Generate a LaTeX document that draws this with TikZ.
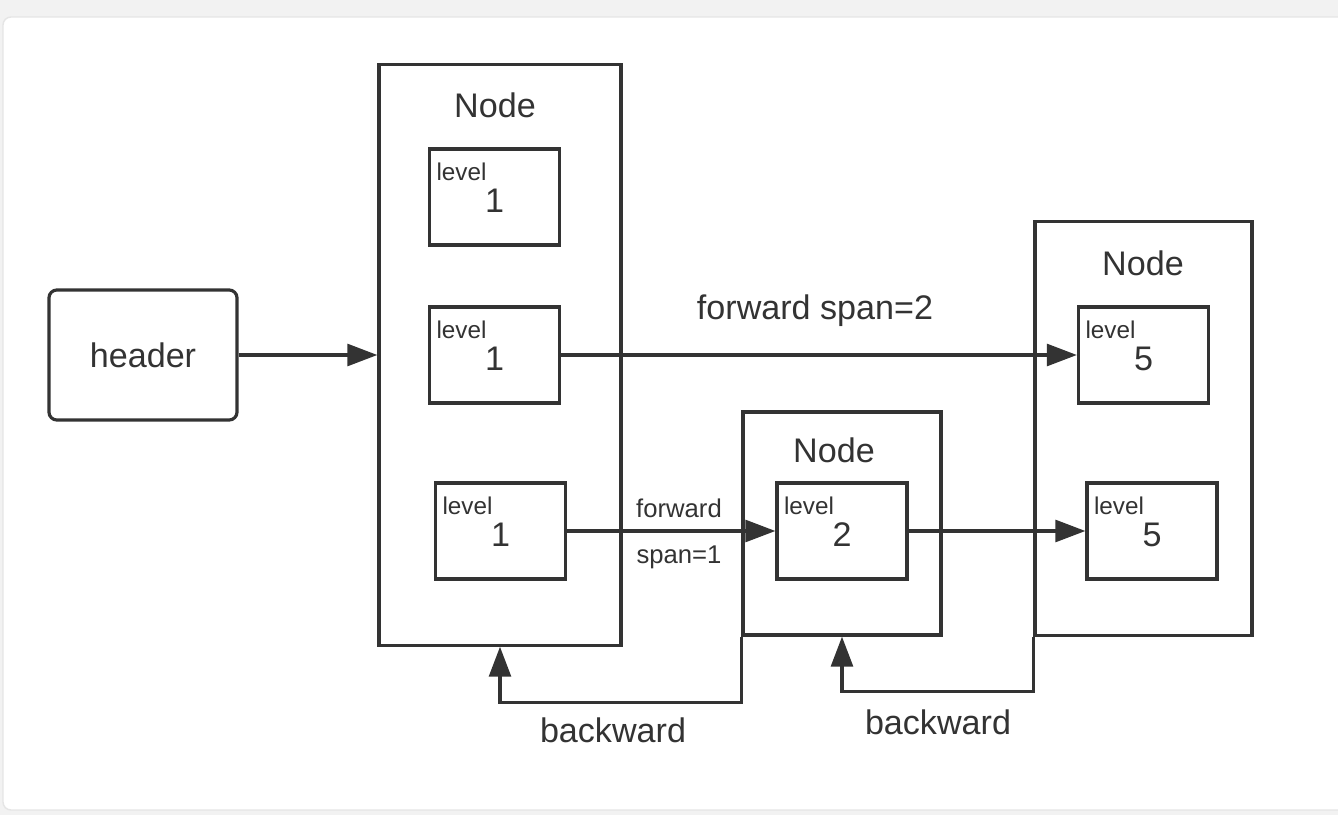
\documentclass[tikz,border=0pt]{standalone}
\usepackage{fontspec}
\setmainfont{Liberation Sans}
\usetikzlibrary{arrows.meta}
\definecolor{ink}{HTML}{333333}
\definecolor{pagebg}{HTML}{F2F2F2}
\begin{document}
\begin{tikzpicture}[x=0.01cm,y=-0.01cm,
    boxline/.style={draw=ink,line width=0.9pt,rectangle,inner sep=0pt},
    lvlbox/.style={boxline,minimum width=1.3cm,minimum height=0.96cm},
    big/.style={text=ink,font=\fontsize{9.7}{11}\selectfont,inner sep=0pt},
    tag/.style={text=ink,font=\fontsize{6.9}{8}\selectfont,inner sep=0pt,anchor=west},
    small/.style={text=ink,font=\fontsize{7.3}{8.5}\selectfont,inner sep=0pt},
    link/.style={draw=ink,line width=0.9pt,-{Triangle[length=8.5pt,width=6.2pt]}}]
    \useasboundingbox (0,0) rectangle (1338,815);
    % card behind the diagram
    \fill[pagebg] (0,0) rectangle (1338,815);
    \draw[black!10,fill=white,rounded corners=0.08cm] (3,17) rectangle (1360,810);

    \node[boxline,rounded corners=0.08cm,minimum width=1.88cm,minimum height=1.3cm,big] (hdr) at (143,355) {header};

    % the three skip list nodes
    \node[boxline,minimum width=2.42cm,minimum height=5.8cm] (n1) at (500,355) {};
    \node[boxline,minimum width=1.98cm,minimum height=2.23cm] (n2) at (842,523.5) {};
    \node[boxline,minimum width=2.17cm,minimum height=4.13cm] (n3) at (1143.5,428.5) {};
    \node[big] (n1-t) at (495,105) {Node};
    \node[big] (n2-t) at (834,450) {Node};
    \node[big] (n3-t) at (1143,263) {Node};

    % levels
    \foreach \nm/\x/\y/\lv in {a1/494.5/197/1, b1/494.5/355/1, c1/500.5/531/1,
                               b2/842/531/2, a3/1143.5/355/5, b3/1152/531/5} {
        \node[lvlbox] (\nm) at (\x,\y) {};
        \node[tag] (\nm-t) at ([shift={(8,24)}]\nm.north west) {level};
        \node[big] (\nm-n) at ([shift={(0,4)}]\nm.center) {\lv};
    }

    \draw[link] (hdr.east) -- (n1.west);
    \draw[link] (b1.east) -- (a3.west);
    \draw[link] (c1.east) -- (b2.west);
    \draw[link] (b2.east) -- (b3.west);
    \node[big] (fw2) at (815,311) {forward span=2};
    \node[small] (fw1) at (679,508) {forward};
    \node[small] (sp1) at (679,557) {span=1};

    % backward pointers
    \draw[link] (n2.south west) -- ++(0,66) -| (n1.south);
    \draw[link] (n3.south west) -- ++(0,55) -| (n2.south);
    \node[big] (bw1) at (613,730) {backward};
    \node[big] (bw2) at (938,722) {backward};
\end{tikzpicture}
\end{document}
